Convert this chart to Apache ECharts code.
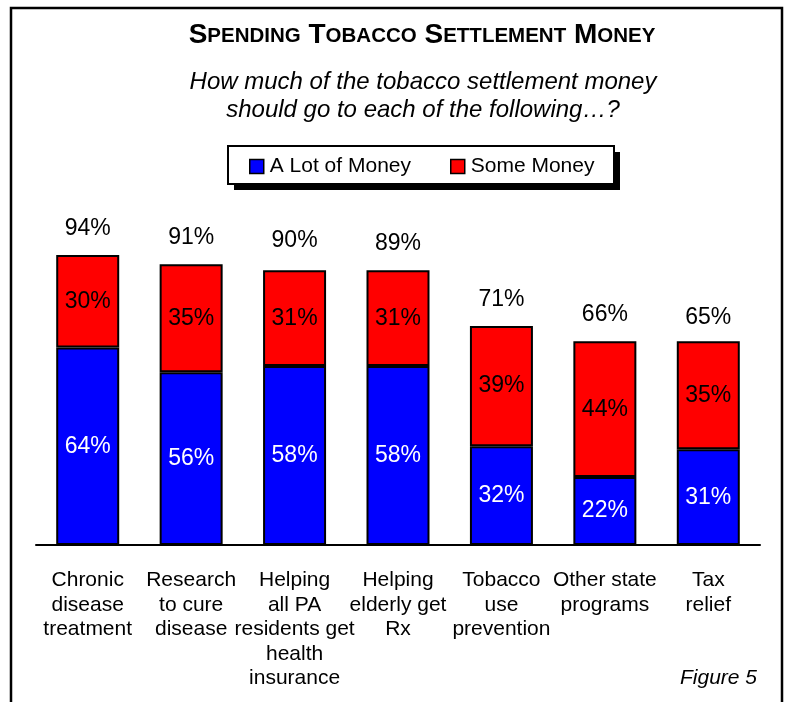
<!DOCTYPE html>
<html>
<head>
<meta charset="utf-8">
<script src="https://cdn.jsdelivr.net/npm/echarts@6/dist/echarts.min.js"></script>
<style>
  html, body { margin: 0; padding: 0; background: #fff; }
  #chart { width: 788px; height: 702px; }
</style>
</head>
<body>
<div id="chart"></div>
<script>
// Survey: how tobacco settlement money should be spent
const categories = [
  'Chronic\ndisease\ntreatment',
  'Research\nto cure\ndisease',
  'Helping\nall PA\nresidents get\nhealth\ninsurance',
  'Helping\nelderly get\nRx',
  'Tobacco\nuse\nprevention',
  'Other state\nprograms',
  'Tax\nrelief'
];
const aLotOfMoney = [64, 56, 58, 58, 32, 22, 31];
const someMoney   = [30, 35, 31, 31, 39, 44, 35];
const totals      = [94, 91, 90, 89, 71, 66, 65];

const FONT = 'Liberation Sans, Arial, Helvetica, sans-serif';

const chart = echarts.init(document.getElementById('chart'), null, { renderer: 'canvas' });

const barBorder = { borderColor: '#000', borderWidth: 2 };

chart.setOption({
  backgroundColor: '#fff',
  animation: false,
  textStyle: { fontFamily: FONT, color: '#000' },
  title: [
    {
      text: '{b|S}{s|PENDING}{b| T}{s|OBACCO}{b| S}{s|ETTLEMENT}{b| M}{s|ONEY}',
      left: 422, top: 17, textAlign: 'center', padding: 0,
      textStyle: {
        rich: {
          b: { fontFamily: FONT, fontWeight: 'bold', fontSize: 28, color: '#000', verticalAlign: 'bottom', lineHeight: 32 },
          s: { fontFamily: FONT, fontWeight: 'bold', fontSize: 20.5, color: '#000', verticalAlign: 'bottom', lineHeight: 32, padding: [0, 0, 2, 0] }
        }
      }
    },
    {
      text: 'How much of the tobacco settlement money\nshould go to each of the following\u2026?',
      left: 423, top: 69, textAlign: 'center', padding: 0,
      textStyle: { fontFamily: FONT, fontStyle: 'italic', fontWeight: 'normal', fontSize: 24, lineHeight: 27.5, color: '#000' }
    },
    {
      text: 'Figure 5',
      left: 757, top: 668, textAlign: 'right', padding: 0,
      textStyle: { fontFamily: FONT, fontStyle: 'italic', fontWeight: 'normal', fontSize: 21, color: '#000' }
    }
  ],
  legend: {
    data: ['A Lot of Money', 'Some Money'],
    left: 249, top: 156,
    orient: 'horizontal',
    itemWidth: 14, itemHeight: 14, itemGap: 39,
    padding: 0,
    icon: 'rect',
    itemStyle: { borderColor: '#000', borderWidth: 1.5 },
    textStyle: { fontFamily: FONT, fontSize: 21, color: '#000', padding: [0, 0, 0, 1] },
    selectedMode: false
  },
  grid: { left: 36, right: 28, top: 236.4, bottom: 157, containLabel: false },
  xAxis: {
    type: 'category',
    data: categories,
    axisLine: { show: true, lineStyle: { color: '#000', width: 2 } },
    axisTick: { show: false },
    axisLabel: { interval: 0, margin: 23, fontFamily: FONT, fontSize: 21, lineHeight: 24.5, color: '#000', align: 'center' },
    splitLine: { show: false }
  },
  yAxis: {
    type: 'value', min: 0, max: 100, interval: 20,
    show: false,
    splitLine: { show: false }
  },
  series: [
    {
      name: 'A Lot of Money', type: 'bar', stack: 'money',
      data: aLotOfMoney, barWidth: 63,
      itemStyle: Object.assign({ color: '#0000ff' }, barBorder),
      label: { show: true, position: 'inside', formatter: '{c}%', fontFamily: FONT, fontSize: 23, color: '#fff' }
    },
    {
      name: 'Some Money', type: 'bar', stack: 'money',
      data: someMoney, barWidth: 63,
      itemStyle: Object.assign({ color: '#ff0000' }, barBorder),
      label: { show: true, position: 'inside', formatter: '{c}%', fontFamily: FONT, fontSize: 23, color: '#000' }
    },
    {
      name: 'Total', type: 'scatter',
      data: totals, symbolSize: 0, silent: true, z: 5,
      itemStyle: { opacity: 1 },
      label: { show: true, position: 'top', distance: 15, formatter: '{c}%', fontFamily: FONT, fontSize: 23, color: '#000', opacity: 1 }
    }
  ],
  graphic: [
    // legend frame with its drop shadow
    {
      type: 'rect', silent: true, z: 0,
      shape: { x: 234, y: 152, width: 386, height: 38 },
      style: { fill: '#000' }
    },
    {
      type: 'rect', silent: true, z: 1,
      shape: { x: 228, y: 146, width: 386, height: 38 },
      style: { fill: '#fff', stroke: '#000', lineWidth: 2 }
    },
    // outer frame
    {
      type: 'rect', silent: true, z: 100,
      shape: { x: 11, y: 8, width: 771, height: 740 },
      style: { fill: 'none', stroke: '#000', lineWidth: 2.5 }
    }
  ]
});
</script>
</body>
</html>
